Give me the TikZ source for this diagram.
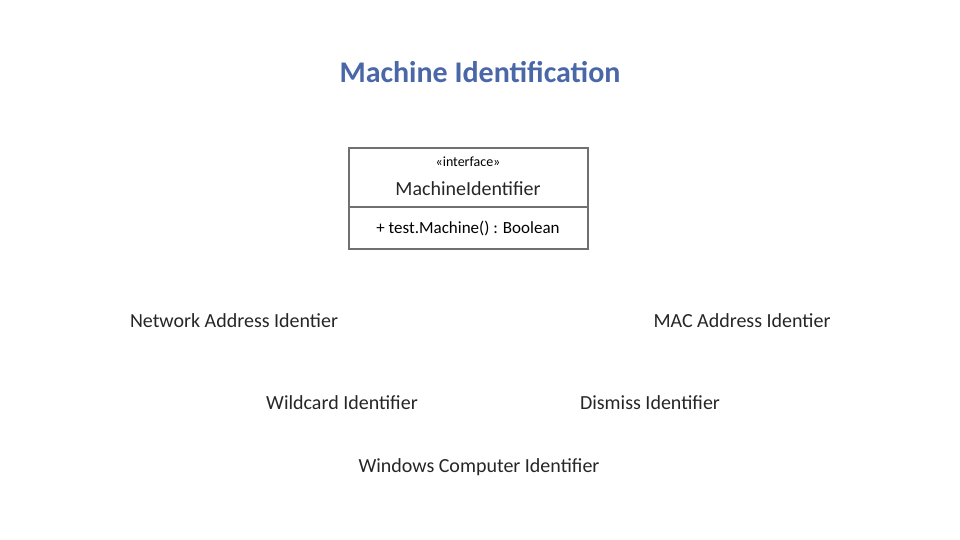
\documentclass[tikz,border=0pt]{standalone}
\usepackage{fontspec}
\setmainfont{Carlito}
\definecolor{titleblue}{HTML}{4A67A8}
\definecolor{boxgray}{HTML}{707070}
\begin{document}
\begin{tikzpicture}[x=1pt,y=-1pt,
  lbl/.style={font=\fontsize{20}{24}\selectfont, text=black!85, inner sep=0pt}]
\useasboundingbox (0,0) rectangle (960,540);
\node[font=\bfseries\fontsize{30}{36}\selectfont, text=titleblue] (title) at (480,72) {Machine Identification};
\draw[boxgray, line width=2pt] (349,148) rectangle (588,249);
\draw[boxgray, line width=2pt] (349,207) -- (588,207);
\node[font=\fontsize{14}{16}\selectfont, inner sep=0pt] (st) at (468,162) {<<interface>>};
\node[lbl] (name) at (468,189) {MachineIdentifier};
\node[font=\fontsize{17}{20}\selectfont, inner sep=0pt] (op) at (468,228) {+ test.Machine() : Boolean};
\node[lbl] (net) at (234,321) {Network Address Identier};
\node[lbl] (mac) at (742,321) {MAC Address Identier};
\node[lbl] (wild) at (342,403) {Wildcard Identifier};
\node[lbl] (dis) at (650,403) {Dismiss Identifier};
\node[lbl] (win) at (479,467) {Windows Computer Identifier};
\end{tikzpicture}
\end{document}
